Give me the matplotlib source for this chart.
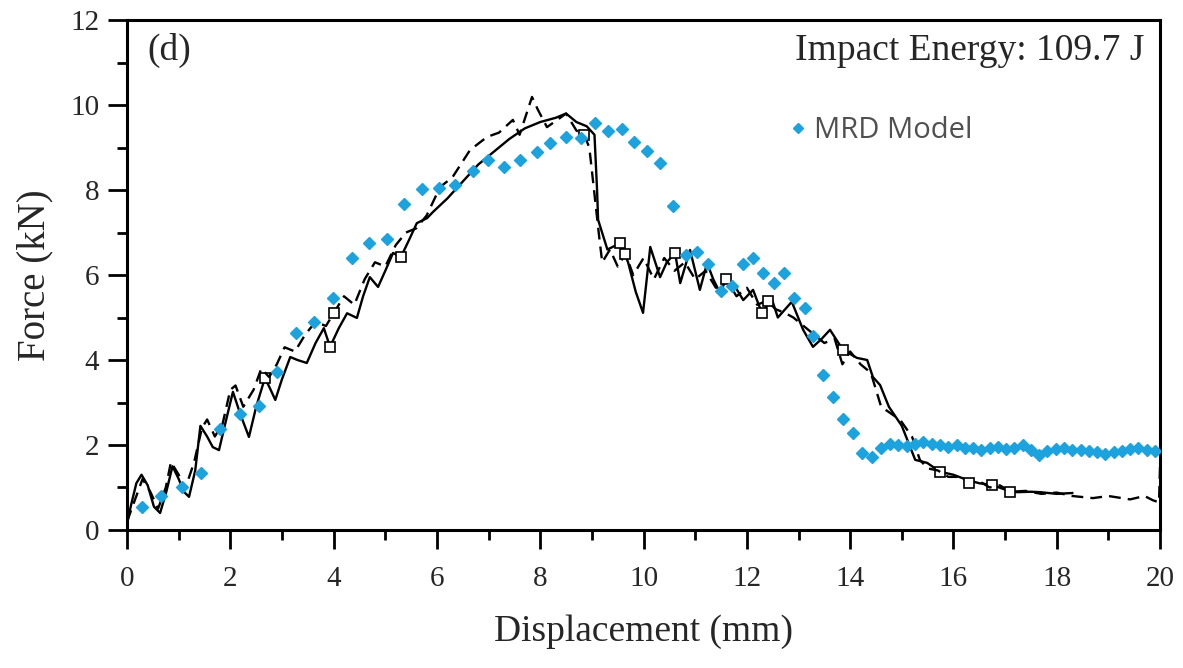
import numpy as np
import matplotlib
matplotlib.use("Agg")
import matplotlib.pyplot as plt
from matplotlib.ticker import MultipleLocator

# --- data ---
# experimental curve A (solid)
exp_a_x = [0.00, 0.08, 0.18, 0.28, 0.40, 0.52, 0.64, 0.76, 0.88, 1.00, 1.10, 1.20,
           1.32, 1.42, 1.55, 1.66, 1.78, 1.92, 2.05, 2.20, 2.36, 2.50, 2.67, 2.78,
           2.87, 3.00, 3.16, 3.30, 3.48, 3.65, 3.81, 3.93, 4.10, 4.26, 4.45, 4.57,
           4.70, 4.86, 5.00, 5.15, 5.30, 5.45, 5.61, 5.81, 5.92, 6.20, 6.50, 6.80,
           7.10, 7.40, 7.70, 8.00, 8.30, 8.50, 8.70, 8.90, 9.05, 9.10, 9.12, 9.30,
           9.55, 9.70, 9.85, 9.99, 10.13, 10.32, 10.45, 10.61, 10.71, 10.90, 11.09,
           11.23, 11.35, 11.48, 11.60, 11.73, 11.93, 12.12, 12.29, 12.40, 12.49,
           12.60, 12.87, 13.09, 13.28, 13.45, 13.61, 13.86, 14.13, 14.33, 14.44,
           14.58, 14.75, 15.00, 15.26, 15.49, 15.74, 16.00, 16.26, 16.50, 16.75,
           17.00, 17.23, 17.50, 17.68, 18.00, 18.30]
exp_a_y = [0.15, 0.60, 1.10, 1.30, 1.05, 0.55, 0.40, 0.90, 1.50, 1.20, 0.90, 0.78,
           1.40, 2.45, 2.20, 1.95, 1.88, 2.60, 3.25, 2.70, 2.19, 2.90, 3.58, 3.30,
           3.06, 3.55, 4.07, 4.00, 3.93, 4.40, 4.75, 4.31, 4.75, 5.10, 4.99, 5.50,
           5.95, 5.72, 6.10, 6.52, 6.42, 6.80, 7.22, 7.34, 7.48, 7.80, 8.20, 8.60,
           8.90, 9.20, 9.45, 9.60, 9.70, 9.80, 9.60, 9.50, 9.30, 8.00, 7.30, 6.60,
           6.75, 6.30, 5.60, 5.11, 6.66, 5.95, 6.30, 6.52, 5.81, 6.59, 5.65, 6.28,
           5.90, 5.58, 5.90, 5.81, 5.41, 5.65, 5.11, 5.30, 5.41, 5.00, 5.37, 4.71,
           4.31, 4.50, 4.71, 4.24, 4.05, 4.00, 3.60, 3.41, 2.90, 2.45, 1.65, 1.58,
           1.37, 1.30, 1.18, 1.10, 1.06, 0.95, 0.89, 0.90, 0.89, 0.85, 0.87]
exp_a_squares = [2.67, 4.00, 5.30, 9.55, 10.61, 12.29, 13.86, 15.74, 16.75]

# experimental curve B (dashed)
exp_b_x = [0.00, 0.15, 0.30, 0.45, 0.60, 0.75, 0.85, 1.00, 1.12, 1.30, 1.45, 1.55,
           1.70, 1.85, 2.00, 2.10, 2.25, 2.45, 2.60, 2.75, 2.90, 3.05, 3.25, 3.45,
           3.65, 3.85, 4.00, 4.20, 4.40, 4.60, 4.80, 5.00, 5.20, 5.40, 5.60, 5.80,
           6.06, 6.30, 6.64, 6.97, 7.20, 7.47, 7.60, 7.84, 7.95, 8.13, 8.33, 8.50,
           8.70, 8.85, 8.95, 9.15, 9.20, 9.35, 9.50, 9.65, 9.80, 10.00, 10.20, 10.40,
           10.60, 10.80, 11.00, 11.20, 11.40, 11.60, 11.80, 12.00, 12.20, 12.40,
           12.55, 12.75, 12.90, 13.10, 13.30, 13.50, 13.70, 13.85, 14.00, 14.20,
           14.40, 14.60, 14.97, 15.20, 15.35, 15.50, 15.70, 15.90, 16.10, 16.30,
           16.50, 16.70, 16.90, 17.10, 17.40, 17.70, 18.00, 18.30, 18.70, 19.00,
           19.42, 19.70, 19.86, 19.98, 20.00]
exp_b_y = [0.20, 0.70, 1.20, 0.90, 0.50, 1.00, 1.60, 1.30, 0.95, 1.60, 2.40, 2.60,
           2.20, 2.50, 3.30, 3.40, 2.90, 3.30, 3.80, 3.60, 3.90, 4.30, 4.20, 4.60,
           4.90, 4.80, 5.10, 5.50, 5.30, 5.90, 6.30, 6.20, 6.70, 7.00, 7.10, 7.40,
           8.07, 8.30, 8.94, 9.25, 9.35, 9.65, 9.30, 10.19, 9.90, 9.48, 9.65, 9.80,
           9.40, 9.30, 9.00, 6.80, 6.30, 6.60, 6.20, 6.50, 6.00, 6.40, 5.90, 6.40,
           6.10, 6.30, 5.90, 6.10, 5.70, 5.90, 5.50, 5.70, 5.30, 5.40, 5.20, 5.10,
           5.00, 4.80, 4.60, 4.40, 4.50, 3.90, 4.20, 3.90, 3.70, 2.90, 2.59, 2.19,
           1.65, 1.45, 1.40, 1.25, 1.25, 1.10, 1.15, 1.00, 1.05, 0.90, 0.92, 0.85,
           0.88, 0.80, 0.75, 0.80, 0.72, 0.80, 0.70, 0.65, 1.50]
exp_b_squares = [4.00, 8.85, 9.65, 11.60, 12.40, 16.30, 17.10]

# MRD model (diamonds)
mrd_x = [0.29, 0.66, 1.06, 1.43, 1.80, 2.19, 2.56, 2.90, 3.27, 3.62, 3.99, 4.36,
         4.69, 5.03, 5.36, 5.71, 6.04, 6.35, 6.70, 6.99, 7.30, 7.61, 7.94, 8.19,
         8.50, 8.79, 9.06, 9.31, 9.58, 9.82, 10.07, 10.32, 10.57, 10.82, 11.04,
         11.25, 11.50, 11.71, 11.93, 12.12, 12.31, 12.52, 12.72, 12.92, 13.13,
         13.28, 13.48, 13.67, 13.86, 14.06, 14.23, 14.42,
         14.60, 14.77, 14.93, 15.10, 15.26, 15.42, 15.58, 15.74, 15.90, 16.06,
         16.22, 16.38, 16.54, 16.70, 16.86, 17.02, 17.18, 17.34, 17.50, 17.66,
         17.82, 17.98, 18.14, 18.30, 18.46, 18.62, 18.78, 18.94, 19.10, 19.26,
         19.42, 19.58, 19.74, 19.90]
mrd_y = [0.54, 0.80, 1.01, 1.34, 2.38, 2.73, 2.92, 3.72, 4.64, 4.89, 5.46, 6.40,
         6.75, 6.85, 7.67, 8.02, 8.05, 8.12, 8.45, 8.71, 8.54, 8.71, 8.89, 9.11,
         9.25, 9.23, 9.57, 9.39, 9.43, 9.13, 8.92, 8.64, 7.62, 6.47, 6.54,
         6.26, 5.62, 5.74, 6.26, 6.40, 6.05, 5.81, 6.05, 5.46, 5.22,
         4.56, 3.65, 3.13, 2.61, 2.28, 1.81, 1.72,
         1.93, 2.02, 2.00, 1.98, 2.02, 2.06, 2.02, 2.00, 1.96, 2.00,
         1.94, 1.92, 1.88, 1.92, 1.95, 1.90, 1.93, 2.00, 1.88, 1.76,
         1.86, 1.90, 1.92, 1.88, 1.88, 1.86, 1.84, 1.78, 1.84, 1.86,
         1.90, 1.93, 1.88, 1.86]

x_ticks = [0, 2, 4, 6, 8, 10, 12, 14, 16, 18, 20]
y_ticks = [0, 2, 4, 6, 8, 10, 12]

SERIF = ["Liberation Serif", "DejaVu Serif"]
BLUE = "#1ca3de"
INK = "#262626"


def nearest_idx(xs, targets):
    xs = np.asarray(xs)
    return [int(np.argmin(np.abs(xs - t))) for t in targets]


fig = plt.figure(figsize=(11.83, 6.68), dpi=100)
ax = fig.add_axes([0.1074, 0.2066, 0.8732, 0.7634])

ax.plot(exp_a_x, exp_a_y, color="black", lw=1.7, ls="-",
        marker="s", ms=7, mfc="white", mec="black", mew=1.2,
        markevery=nearest_idx(exp_a_x, exp_a_squares), zorder=2)
ax.plot(exp_b_x, exp_b_y, color="black", lw=1.7, ls=(0, (5, 3)),
        marker="s", ms=7, mfc="white", mec="black", mew=1.2,
        markevery=nearest_idx(exp_b_x, exp_b_squares), zorder=2)
ax.plot(mrd_x, mrd_y, ls="none", marker="D", ms=6.5, color=BLUE,
        mec=BLUE, label="MRD Model", zorder=3)

ax.set_xlim(0, 20)
ax.set_ylim(0, 12)
ax.set_xticks(x_ticks)
ax.set_yticks(y_ticks)
ax.xaxis.set_minor_locator(MultipleLocator(1))
ax.yaxis.set_minor_locator(MultipleLocator(1))
ax.tick_params(which="major", direction="out", length=14, width=2,
               top=False, right=False)
ax.tick_params(which="minor", direction="out", length=7, width=2,
               top=False, right=False)
ax.tick_params(axis="x", pad=12)
ax.tick_params(axis="y", pad=6)
for sp in ax.spines.values():
    sp.set_linewidth(2.2)

for lab in ax.get_xticklabels() + ax.get_yticklabels():
    lab.set_fontfamily(SERIF)
    lab.set_fontsize(21)
    lab.set_color(INK)

ax.set_xlabel("Displacement (mm)", fontsize=27, family=SERIF, color=INK,
              labelpad=16)
ax.set_ylabel("Force (kN)", fontsize=28, family=SERIF, color=INK,
              labelpad=12)

ax.text(0.02, 0.94, "(d)", transform=ax.transAxes, fontsize=27, family=SERIF,
        color=INK, va="center", ha="left")
ax.text(0.985, 0.94, "Impact Energy: 109.7 J", transform=ax.transAxes,
        fontsize=27, family=SERIF, color=INK, va="center", ha="right")

ax.legend(loc="center left", bbox_to_anchor=(0.667, 0.805),
          bbox_transform=fig.transFigure, frameon=False, borderpad=0,
          borderaxespad=0, handlelength=0.6, handletextpad=0.25,
          markerscale=0.8,
          prop={"family": ["Open Sans", "DejaVu Sans"], "size": 21},
          labelcolor="#505050")

fig.savefig("out.png", dpi=100)
